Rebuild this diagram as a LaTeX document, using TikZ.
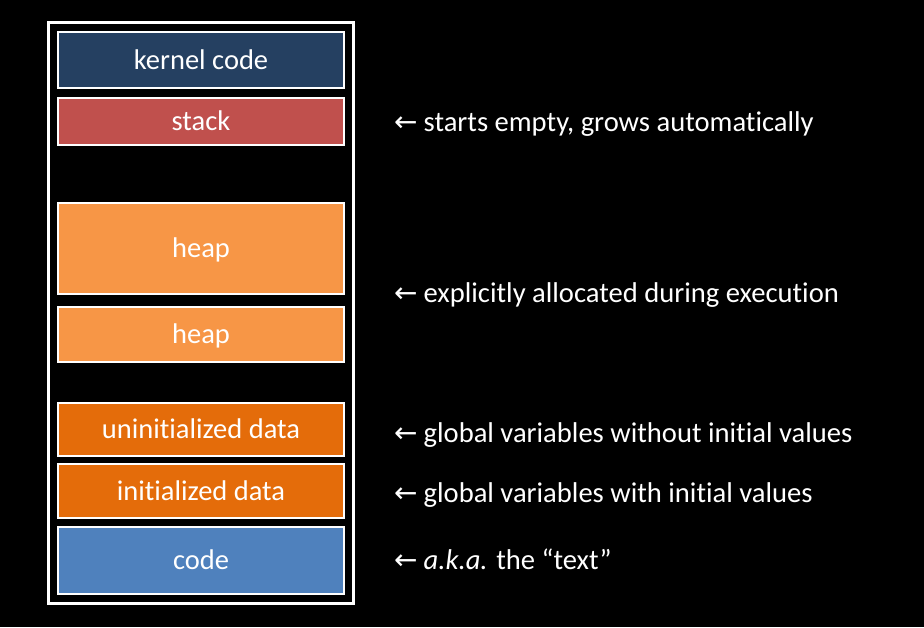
\documentclass[tikz,border=0pt]{standalone}
\usepackage{fontspec}
\setmainfont[Ligatures=NoCommon]{Carlito}
\newfontfamily\arrowfont{DejaVu Sans}
\definecolor{kernelc}{HTML}{254061}
\definecolor{stackc}{HTML}{C0504D}
\definecolor{heapc}{HTML}{F79646}
\definecolor{datac}{HTML}{E46C0A}
\definecolor{codec}{HTML}{4F81BD}
\tikzset{
  seg/.style={draw=white, line width=2pt, text=white, font=\fontsize{28.5}{32}\selectfont,
    minimum width=286pt, inner sep=0pt, text height=19pt, text depth=1pt},
  lbl/.style={anchor=base west, inner sep=0pt, text=white, font=\fontsize{28.6}{32}\selectfont},
  frame/.style={draw=white, line width=3pt}
}
\newcommand{\larr}{{\arrowfont\fontsize{28}{30}\selectfont ←}\hspace{6pt}}
\begin{document}
\begin{tikzpicture}[x=1pt,y=-1pt]
\fill[black] (0,0) rectangle (924,627);
\useasboundingbox (0,0) rectangle (924,627);
\node[frame, minimum width=305pt, minimum height=580.7pt, inner sep=0pt] (outer) at (201,312.65) {};
\node[seg, fill=kernelc, minimum height=56pt] (kernel) at (201,60) {kernel code};
\node[seg, fill=stackc, minimum height=47pt] (stack) at (201,121.5) {stack};
\node[seg, fill=heapc, minimum height=91pt] (heapa) at (201,248.5) {heap};
\node[seg, fill=heapc, minimum height=55pt] (heapb) at (201,334.5) {heap};
\node[seg, fill=datac, minimum height=53pt] (uninit) at (201,429.5) {uninitialized data};
\node[seg, fill=datac, minimum height=54pt] (init) at (201,491) {initialized data};
\node[seg, fill=codec, minimum height=67pt] (code) at (201,560.5) {code};
\node[lbl] (lstack) at (394,131) {\larr starts empty, grows automatically};
\node[lbl] (lheap) at (394,302) {\larr explicitly allocated during execution};
\node[lbl] (luninit) at (394,442) {\larr global variables without initial values};
\node[lbl] (linit) at (394,502) {\larr global variables with initial values};
\node[lbl] (lcode) at (394,569) {\larr \textit{a.k.a.} the “text”};
\end{tikzpicture}
\end{document}
